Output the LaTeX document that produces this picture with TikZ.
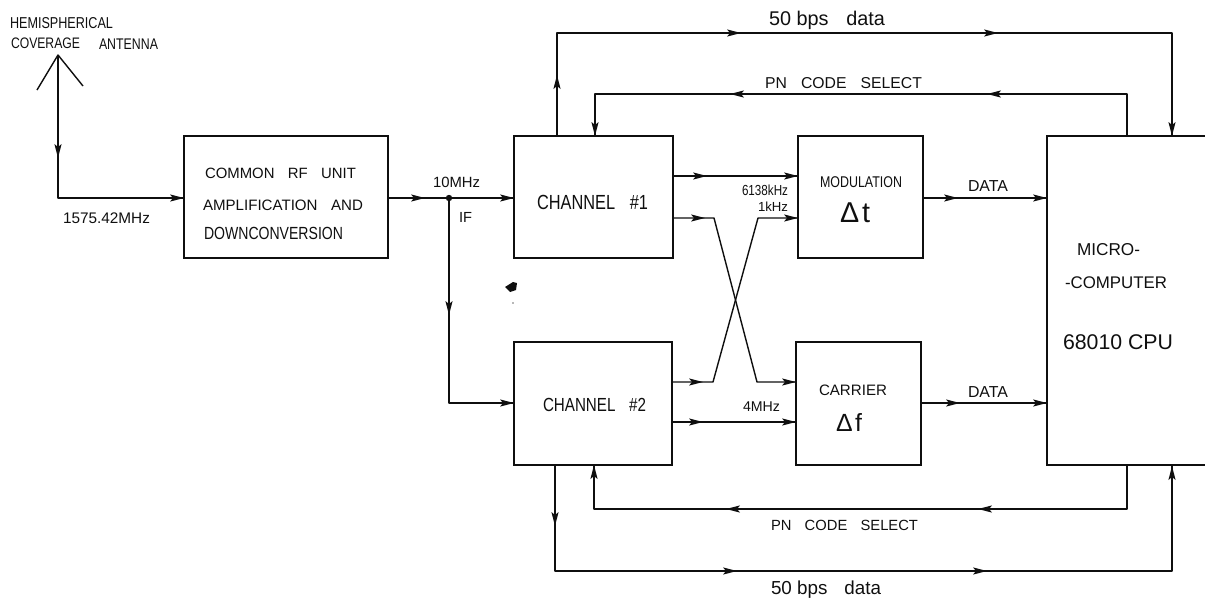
\documentclass[tikz,border=0pt]{standalone}
\usepackage{graphicx}
\usepackage{fontspec}
\setmainfont{Liberation Sans}
\newcommand{\tw}[2]{\resizebox{\dimexpr #1pt/2\relax}{!}{#2}}
\newcommand{\tall}[2]{\tw{#1}{\scalebox{1}[1.25]{#2}}}
\newcommand{\ah}[3]{\fill[ink,shift={(#1,#2)},rotate=#3] (0,0)--(-7pt,1.8pt)--(-5.5pt,0)--(-7pt,-1.8pt)--cycle;}
\newcommand{\gp}{\hspace{0.9em}}
\definecolor{ink}{gray}{0.06}
\tikzset{
  conn/.style={draw=ink,line width=.7pt,line join=round},
  blockbox/.style={draw=ink,line width=.8pt,inner sep=0pt,outer sep=0pt},
  lbl/.style={inner sep=0pt,outer sep=0pt,anchor=west,text=ink},
}
\begin{document}
\begin{tikzpicture}[x=.5pt,y=-.5pt]
\useasboundingbox (0,0) rectangle (1205,600);
% blocks
\node[blockbox,minimum width=102pt,minimum height=61pt] (rf) at (286,197) {};
\node[blockbox,minimum width=79.5pt,minimum height=61pt] (ch1) at (593.5,197) {};
\node[blockbox,minimum width=79pt,minimum height=61.5pt] (ch2) at (593,403.5) {};
\node[blockbox,minimum width=62.5pt,minimum height=61pt] (mod) at (860.5,197) {};
\node[blockbox,minimum width=62.5pt,minimum height=61.5pt] (car) at (858.5,403.5) {};
\node[inner sep=0pt,outer sep=0pt,minimum width=79pt,minimum height=164.5pt] (cpu) at (1126,300.5) {};
\draw[blockbox] (cpu.north east)--(cpu.north west)--(cpu.south west)--(cpu.south east);
% antenna
\coordinate (ant) at (58,55);
\coordinate (antl) at (37,90);
\coordinate (antr) at (83,86);
\draw[conn] (antl)--(ant)--(antr);
\draw[conn] (ant) |- (rf.west |- 0,198);
\ah{58}{158}{-90}\ah{184}{198}{0}
% RF to channels
\coordinate (jn) at (449,198);
\draw[conn] (rf.east |- jn) -- (ch1.west |- jn);
\draw[conn] (jn) -- (449,403) -- (ch2.west |- 0,403);
\fill[ink] (jn) circle (1.6pt);
\ah{425}{198}{0}\ah{514}{198}{0}\ah{449}{315}{-90}\ah{514}{403}{0}
% channel to correlators
\draw[conn] (ch1.east |- 0,176) -- (mod.west |- 0,176);
\ah{707}{176}{0}\ah{798}{176}{0}
\coordinate (xa) at (714,218);
\coordinate (xb) at (757,382);
\coordinate (xc) at (713,382);
\coordinate (xd) at (758,218);
\draw[conn] (ch1.east |- xa) -- (xa) -- (xb) -- (car.west |- xb);
\ah{705}{218}{0}\ah{796}{382}{0}
\draw[conn] (ch2.east |- xc) -- (xc) -- (xd) -- (mod.west |- xd);
\ah{703}{382}{0}\ah{798}{218}{0}
\draw[conn] (ch2.east |- 0,422) -- (car.west |- 0,422);
\ah{703}{422}{0}\ah{796}{422}{0}
% data
\draw[conn] (mod.east |- 0,198) -- (cpu.west |- 0,198);
\ah{958}{198}{0}\ah{1047}{198}{0}
\draw[conn] (car.east |- 0,403) -- (cpu.west |- 0,403);
\ah{960}{403}{0}\ah{1047}{403}{0}
% upper loops
\draw[conn] (557,0 |- ch1.north) -- (557,33) -- (1172,33) -- (1172,0 |- cpu.north);
\ah{557}{75}{90}\ah{741}{33}{0}\ah{998}{33}{0}\ah{1172}{136}{-90}
\draw[conn] (1127,0 |- cpu.north) -- (1127,94) -- (595,94) -- (595,0 |- ch1.north);
\ah{987}{94}{180}\ah{730}{94}{180}\ah{595}{136}{-90}
% lower loops
\draw[conn] (1127,0 |- cpu.south) -- (1127,509) -- (594,509) -- (594,0 |- ch2.south);
\ah{978}{509}{180}\ah{726}{509}{180}\ah{594}{465}{90}
\draw[conn] (555,0 |- ch2.south) -- (555,571) -- (1172,571) -- (1172,0 |- cpu.south);
\ah{555}{526}{-90}\ah{737}{571}{0}\ah{987}{571}{0}\ah{1172}{466}{90}
% scan specks
\fill[ink] (505,287)--(513,282)--(517,283)--(516,290)--(510,292)--cycle;
\fill[ink!60] (513,303) circle (.4pt);
% labels
\node[lbl] (t1) at (10,23) {\tall{103}{HEMISPHERICAL}};
\node[lbl] (t2) at (11,43) {\tall{69}{COVERAGE}};
\node[lbl] (t3) at (99,44) {\tall{59}{ANTENNA}};
\node[lbl] (t4) at (63,218) {\tw{87}{1575.42MHz}};
\node[lbl] (t5) at (205,173) {\tw{151}{COMMON\gp RF\gp UNIT}};
\node[lbl] (t6) at (203,205) {\tw{160}{AMPLIFICATION\gp AND}};
\node[lbl] (t7) at (204,233) {\tall{139}{DOWNCONVERSION}};
\node[lbl] (t8) at (433,182) {\tw{47}{10MHz}};
\node[lbl] (t9) at (459,217) {\tw{13}{IF}};
\node[lbl] (t10) at (537,202) {\tall{111}{CHANNEL\gp \#1}};
\node[lbl] (t11) at (543,405) {\tall{103}{CHANNEL\gp \#2}};
\node[lbl] (t12) at (742,190) {\tall{46}{6138kHz}};
\node[lbl] (t13) at (758,207) {\tw{30}{1kHz}};
\node[lbl] (t14) at (743,407) {\tw{37}{4MHz}};
\node[lbl] (t15) at (820,182) {\tall{82}{MODULATION}};
\node[lbl] (t16) at (840,213) {\tw{30}{Δ\kern.1em t}};
\node[lbl] (t17) at (819,390) {\tw{68}{CARRIER}};
\node[lbl] (t18) at (836,422) {\tw{26}{Δ\kern.1em f}};
\node[lbl] (t19) at (968,186) {\tw{40}{DATA}};
\node[lbl] (t20) at (968,392) {\tw{40}{DATA}};
\node[lbl] (t21) at (1077,250) {\tw{63}{MICRO-}};
\node[lbl] (t22) at (1065,283) {\tw{102}{-COMPUTER}};
\node[lbl] (t23) at (1063,342) {\tw{110}{68010 CPU}};
\node[lbl] (t24) at (769,20) {\tw{116}{50 bps\gp data}};
\node[lbl] (t25) at (765,83) {\tw{157}{PN\gp CODE\gp SELECT}};
\node[lbl] (t26) at (771,525) {\tw{147}{PN\gp CODE\gp SELECT}};
\node[lbl] (t27) at (771,590) {\tw{110}{50 bps\gp data}};
\end{tikzpicture}
\end{document}
